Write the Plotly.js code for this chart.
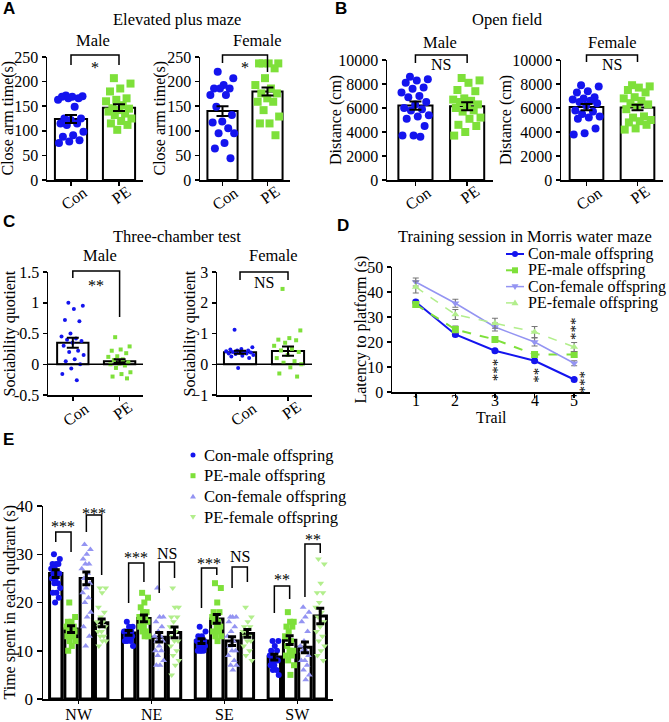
<!DOCTYPE html>
<html>
<head>
<meta charset="utf-8">
<script src="https://cdn.plot.ly/plotly-3.0.1.min.js"></script>
<style>
  html, body { margin: 0; padding: 0; background: #fff; }
  #fig { width: 669px; height: 722px; }
</style>
</head>
<body>
<div id="fig"></div>
<script>
// ---------------- data ----------------
const groups = ['Con', 'PE'];

// A: elevated plus maze, close arm time (s)
const epmMaleCon = [172, 170, 169, 169, 166, 166, 163, 149, 125, 125, 122, 115, 115, 112, 98, 91, 88, 81, 78, 75];
const epmMalePE = [207, 196, 186, 180, 166, 163, 160, 152, 146, 145, 142, 139, 135, 132, 125, 120, 115, 112, 102];
const epmFemaleCon = [220, 207, 193, 186, 186, 186, 173, 173, 149, 132, 119, 117, 105, 95, 95, 75, 64, 44];
const epmFemalePE = [237, 237, 237, 237, 227, 207, 193, 186, 176, 176, 166, 159, 159, 142, 129, 115, 115, 91];
const epmMaleMean = [124, 147];
const epmMaleSem = [8, 7];
const epmFemaleMean = [140, 180];
const epmFemaleSem = [10, 8];

// B: open field, distance (cm)
const ofMaleCon = [8600, 8400, 8300, 8100, 7700, 7600, 7300, 7000, 6900, 6500, 6300, 6000, 5900, 5800, 5400, 5300, 5100, 4500, 3700, 3700, 3600];
const ofMalePE = [8500, 8300, 8100, 7500, 7400, 6800, 6700, 6600, 6500, 6300, 6200, 6000, 5800, 5700, 5200, 5100, 4600, 4500, 4000, 3700];
const ofFemaleCon = [7900, 7800, 7400, 7300, 6900, 6800, 6700, 6600, 6500, 6400, 6200, 5800, 5700, 5500, 5300, 5200, 5100, 4300, 3900, 3800];
const ofFemalePE = [7900, 7800, 7700, 7500, 7300, 6900, 6800, 6600, 6400, 6300, 6100, 5900, 5300, 5200, 5000, 4900, 4800, 4600, 4300, 4200];
const ofMaleMean = [6200, 6150];
const ofMaleSem = [340, 330];
const ofFemaleMean = [6080, 6050];
const ofFemaleSem = [260, 230];
const ofTicks = [0, 2000, 4000, 6000, 8000, 10000];

// C: three-chamber test, sociability quotient
const sqMaleCon = [1.0, 0.95, 0.9, 0.72, 0.7, 0.5, 0.45, 0.42, 0.4, 0.38, 0.35, 0.3, 0.22, 0.2, 0.15, 0.08, 0.05, 0.0, -0.07, -0.16, -0.26];
const sqMalePE = [0.44, 0.29, 0.24, 0.22, 0.18, 0.13, 0.12, 0.08, 0.07, 0.03, 0.01, 0.0, -0.02, -0.06, -0.13, -0.16, -0.2, -0.23];
const sqFemaleCon = [1.12, 0.55, 0.5, 0.48, 0.45, 0.45, 0.42, 0.4, 0.4, 0.38, 0.37, 0.35, 0.35, 0.33, 0.3, 0.28, 0.25, 0.2, -0.12];
const sqFemalePE = [2.45, 1.1, 0.85, 0.8, 0.78, 0.7, 0.6, 0.5, 0.45, 0.4, 0.3, 0.2, 0.1, 0.05, 0.0, -0.1, -0.3, -0.4];
const sqMaleMean = [0.35, 0.05];
const sqMaleSem = [0.08, 0.03];
const sqFemaleMean = [0.39, 0.43];
const sqFemaleSem = [0.05, 0.15];

// D: Morris water maze training, latency (s)
const trails = [1, 2, 3, 4, 5];
const mwmConMale = [36, 23, 16.5, 12.5, 5];
const mwmPEMale = [35, 25, 21, 15, 15];
const mwmConFemale = [44, 35.5, 26, 20, 11.5];
const mwmPEFemale = [42, 31, 27.5, 24, 18];
const mwmConMaleSem = [0.8, 0.8, 0.6, 0.6, 0.5];
const mwmPEMaleSem = [1, 1.4, 0.9, 1, 1];
const mwmConFemaleSem = [1.6, 1.6, 1.6, 1.6, 1];
const mwmPEFemaleSem = [2.4, 2, 2, 2.2, 1.8];

// E: probe test, time in each quadrant (s)
const quadrants = ['NW', 'NE', 'SE', 'SW'];
const eConMale = [
  [30, 29, 28, 28, 28, 27, 27, 26, 26, 26, 25, 25, 24, 24, 23, 22, 22, 21, 20],
  [16, 15, 15, 14, 14, 14, 14, 13, 13, 13, 13, 12, 12, 12, 11],
  [15, 14, 13, 13, 12, 12, 12, 11, 11, 11, 10, 10, 10, 10],
  [12, 12, 11, 10, 10, 9, 9, 8, 8, 8, 7, 7, 6, 6, 5]
];
const ePEMale = [
  [20, 17, 16, 16, 15, 15, 15, 14, 14, 14, 13, 13, 13, 12, 12, 11, 10],
  [22, 21, 20, 19, 18, 18, 17, 17, 16, 16, 15, 15, 14, 14, 13, 13],
  [24, 23, 20, 18, 18, 17, 17, 16, 16, 15, 15, 14, 14, 13, 13, 12],
  [18, 16, 16, 15, 15, 14, 13, 12, 11, 10, 10, 9, 9, 8, 7, 5]
];
const eConFemale = [
  [32, 31, 30, 29, 28, 28, 27, 26, 25, 24, 23, 22, 21, 20, 18, 17, 15, 13, 11],
  [23, 17, 17, 16, 15, 14, 13, 13, 12, 12, 11, 10, 10, 9, 8, 7, 7],
  [17, 17, 17, 16, 15, 14, 13, 12, 11, 10, 10, 9, 8, 7, 7, 6],
  [19, 18, 17, 16, 14, 12, 11, 10, 10, 9, 8, 8, 7, 6, 5, 4]
];
const ePEFemale = [
  [23, 23, 22, 19, 18, 17, 16, 16, 15, 15, 14, 14, 13, 13, 12, 12, 11],
  [23, 19, 19, 17, 17, 16, 15, 14, 13, 12, 12, 11, 10, 9, 8, 7, 5],
  [19, 17, 16, 15, 15, 14, 14, 13, 13, 12, 12, 11, 10, 9, 8],
  [29, 28, 24, 22, 22, 20, 19, 18, 17, 16, 15, 14, 13, 12, 11, 10, 9, 8]
];
const eConMaleMean = [26, 13.7, 12, 8.7];
const ePEMaleMean = [14.5, 16.7, 16.6, 12.2];
const eConFemaleMean = [25, 12.8, 12, 10.7];
const ePEFemaleMean = [15.8, 13.8, 13.6, 17.2];
const eConMaleSem = [0.8, 0.5, 0.5, 0.6];
const ePEMaleSem = [0.7, 0.7, 0.9, 0.9];
const eConFemaleSem = [1.3, 1, 0.9, 1.1];
const ePEFemaleSem = [0.8, 1.1, 0.8, 1.6];

const seriesNames = ['Con-male offspring', 'PE-male offspring', 'Con-female offspring', 'PE-female offspring'];

// ---------------- styling ----------------
const W = 669, H = 722;
const px = v => v / W;
const py = v => 1 - v / H;
const SERIF = 'Liberation Serif, Times New Roman, serif';
const BLUE = '#1414ee';
const GREEN = '#7ee03a';
const LILAC = '#9494f2';
const PALE = '#b2ee8c';

// plot rectangles in pixels (ytl = x position of the rotated y title)
const rect = {
  1: { l: 47, r: 143, t: 57, b: 180, xr: [-0.5, 1.5], yr: [0, 250], ytl: 8, ytitle: 'Close arm time(s)' },
  2: { l: 200, r: 290, t: 57, b: 180, xr: [-0.5, 1.5], yr: [0, 250], ytl: 160, ytitle: 'Close arm time(s)' },
  3: { l: 387, r: 493, t: 60, b: 180, xr: [-0.55, 1.5], yr: [0, 10000], ytl: 336, ytitle: 'Distance (cm)' },
  4: { l: 561, r: 663, t: 60, b: 180, xr: [-0.5, 1.5], yr: [0, 10000], ytl: 506, ytitle: 'Distance (cm)' },
  5: { l: 48, r: 143, t: 272, b: 395, xr: [-0.53, 1.5], yr: [-0.5, 1.5], ytl: 9, ytitle: 'Sociability quotient' },
  6: { l: 217, r: 312, t: 272, b: 395, xr: [-0.48, 1.5], yr: [-1, 3], ytl: 189, ytitle: 'Sociability quotient' },
  7: { l: 392, r: 590, t: 267, b: 392, xr: [0.4, 5.4], yr: [0, 50], ytl: 361, ytitle: 'Latency to platform (s)' },
  8: { l: 43, r: 333, t: 506, b: 699, xr: [-0.49, 3.49], yr: [0, 40], ytl: 9, ytitle: 'Time spent in each qudrant (s)' }
};
const xfrac = (n, v) => (v - rect[n].xr[0]) / (rect[n].xr[1] - rect[n].xr[0]);
const yfrac = (n, v) => (v - rect[n].yr[0]) / (rect[n].yr[1] - rect[n].yr[0]);

// deterministic spread of dots inside a bar
const jitter = i => ((i * 0.618034 + 0.31) % 1) * 2 - 1;

const traces = [];

function barGroup(n, means, sems, sets, size, spread, barW, lineW, errW) {
  const xs = means.map((_, i) => i);
  traces.push({
    type: 'bar', xaxis: 'x' + n, yaxis: 'y' + n, x: xs, y: means, width: barW,
    marker: { color: 'white', line: { color: 'black', width: lineW } }, hoverinfo: 'skip'
  });
  sets.forEach((s, i) => {
    traces.push({
      type: 'scatter', mode: 'markers', xaxis: 'x' + n, yaxis: 'y' + n,
      x: s.vals.map((_, j) => i + jitter(j) * spread), y: s.vals,
      marker: { color: s.color, symbol: s.symbol, size: size }, cliponaxis: false, hoverinfo: 'skip'
    });
  });
  traces.push({
    type: 'scatter', mode: 'markers', xaxis: 'x' + n, yaxis: 'y' + n, x: xs, y: means,
    marker: { size: 1, color: 'rgba(0,0,0,0)' },
    error_y: { type: 'data', array: sems, color: 'black', thickness: errW, width: 6 }, hoverinfo: 'skip'
  });
}

barGroup(1, epmMaleMean, epmMaleSem, [{ vals: epmMaleCon, color: BLUE, symbol: 'circle' }, { vals: epmMalePE, color: GREEN, symbol: 'square' }], 8, 0.28, 0.67, 2, 2);
barGroup(2, epmFemaleMean, epmFemaleSem, [{ vals: epmFemaleCon, color: BLUE, symbol: 'circle' }, { vals: epmFemalePE, color: GREEN, symbol: 'square' }], 8, 0.28, 0.67, 2, 2);
barGroup(3, ofMaleMean, ofMaleSem, [{ vals: ofMaleCon, color: BLUE, symbol: 'circle' }, { vals: ofMalePE, color: GREEN, symbol: 'square' }], 8, 0.28, 0.66, 2, 2);
barGroup(4, ofFemaleMean, ofFemaleSem, [{ vals: ofFemaleCon, color: BLUE, symbol: 'circle' }, { vals: ofFemalePE, color: GREEN, symbol: 'square' }], 8, 0.28, 0.66, 2, 2);
barGroup(5, sqMaleMean, sqMaleSem, [{ vals: sqMaleCon, color: BLUE, symbol: 'circle' }, { vals: sqMalePE, color: GREEN, symbol: 'square' }], 4, 0.25, 0.67, 2, 2);
barGroup(6, sqFemaleMean, sqFemaleSem, [{ vals: sqFemaleCon, color: BLUE, symbol: 'circle' }, { vals: sqFemalePE, color: GREEN, symbol: 'square' }], 4, 0.3, 0.67, 2, 2);

// D lines
const dSeries = [
  { y: mwmConMale, e: mwmConMaleSem, color: BLUE, dash: 'solid', symbol: 'circle', w: 2 },
  { y: mwmPEMale, e: mwmPEMaleSem, color: GREEN, dash: 'dash', symbol: 'square', w: 2 },
  { y: mwmConFemale, e: mwmConFemaleSem, color: LILAC, dash: 'solid', symbol: 'triangle-down', w: 1.5 },
  { y: mwmPEFemale, e: mwmPEFemaleSem, color: PALE, dash: 'dash', symbol: 'triangle-up', w: 1.5 }
];
dSeries.forEach(s => {
  traces.push({
    type: 'scatter', mode: 'lines+markers', xaxis: 'x7', yaxis: 'y7', x: trails, y: s.y,
    line: { color: s.color, dash: s.dash, width: s.w }, marker: { color: s.color, symbol: s.symbol, size: 7 },
    error_y: { type: 'data', array: s.e, color: '#777777', thickness: 1.2, width: 3 }, hoverinfo: 'skip'
  });
});

// E grouped bars
const eSeries = [
  { pts: eConMale, mean: eConMaleMean, sem: eConMaleSem, color: BLUE, symbol: 'circle' },
  { pts: ePEMale, mean: ePEMaleMean, sem: ePEMaleSem, color: GREEN, symbol: 'square' },
  { pts: eConFemale, mean: eConFemaleMean, sem: eConFemaleSem, color: LILAC, symbol: 'triangle-up' },
  { pts: ePEFemale, mean: ePEFemaleMean, sem: ePEFemaleSem, color: PALE, symbol: 'triangle-down' }
];
const eStep = 0.21;
const ePos = (q, k) => q + (k - 1.5) * eStep;
eSeries.forEach((s, k) => {
  traces.push({
    type: 'bar', xaxis: 'x8', yaxis: 'y8', x: quadrants.map((_, q) => ePos(q, k)), y: s.mean, width: 0.17,
    marker: { color: 'white', line: { color: 'black', width: 3 } }, hoverinfo: 'skip'
  });
});
eSeries.forEach((s, k) => {
  const xs = [], ys = [];
  s.pts.forEach((vals, q) => vals.forEach((v, j) => { xs.push(ePos(q, k) + jitter(j) * 0.065); ys.push(v); }));
  traces.push({
    type: 'scatter', mode: 'markers', xaxis: 'x8', yaxis: 'y8', x: xs, y: ys,
    marker: { color: s.color, symbol: s.symbol, size: 6 }, cliponaxis: false, hoverinfo: 'skip'
  });
});
eSeries.forEach((s, k) => {
  traces.push({
    type: 'scatter', mode: 'markers', xaxis: 'x8', yaxis: 'y8', x: quadrants.map((_, q) => ePos(q, k)), y: s.mean,
    marker: { size: 1, color: 'rgba(0,0,0,0)' },
    error_y: { type: 'data', array: s.sem, color: 'black', thickness: 3, width: 4 }, hoverinfo: 'skip'
  });
});

// ---------------- axes ----------------
const layout = {
  width: W, height: H, margin: { l: 0, r: 0, t: 0, b: 0 },
  paper_bgcolor: 'white', plot_bgcolor: 'rgba(0,0,0,0)',
  showlegend: false, barmode: 'overlay',
  font: { family: SERIF, size: 16, color: 'black' },
  shapes: [], annotations: []
};
const base = {
  showline: true, linecolor: 'black', linewidth: 1.5, ticks: 'outside', ticklen: 4, tickwidth: 1.5,
  tickcolor: 'black', showgrid: false, zeroline: false, fixedrange: true,
  tickfont: { family: SERIF, size: 16, color: 'black' }
};
function setAxes(n, xExtra, yExtra) {
  const r = rect[n];
  layout['xaxis' + n] = Object.assign({}, base, { domain: [px(r.l), px(r.r)], range: r.xr, anchor: 'y' + n }, xExtra);
  layout['yaxis' + n] = Object.assign({}, base, { domain: [py(r.b), py(r.t)], range: r.yr, anchor: 'x' + n }, yExtra);
  // y title as a rotated text beside the axis
  layout.annotations.push({
    xref: 'paper', yref: 'paper', x: px(r.ytl), y: py((r.t + r.b) / 2), text: r.ytitle, textangle: -90,
    showarrow: false, xanchor: 'center', yanchor: 'middle', font: { family: SERIF, size: 16, color: 'black' }
  });
}
const catX = { tickvals: [0, 1], showticklabels: false };
setAxes(1, catX, { tickvals: [0, 50, 100, 150, 200, 250] });
setAxes(2, catX, { tickvals: [0, 50, 100, 150, 200, 250] });
setAxes(3, catX, { tickvals: ofTicks, ticktext: ofTicks.map(String) });
setAxes(4, catX, { tickvals: ofTicks, ticktext: ofTicks.map(String) });
setAxes(5, catX, { tickvals: [-0.5, 0, 0.5, 1, 1.5], ticktext: ['-0.5', '0', '0.5', '1', '1.5'] });
setAxes(6, catX, { tickvals: [-1, 0, 1, 2, 3] });
setAxes(7, { tickvals: trails, showticklabels: false }, { tickvals: [0, 10, 20, 30, 40, 50] });
setAxes(8, { tickvals: [0, 1, 2, 3], ticktext: quadrants, ticklen: 3, ticklabelstandoff: -3 },
  { tickvals: [0, 10, 20, 30, 40], ticklen: 5, tickfont: { family: SERIF, size: 17, color: 'black' } });

// rotated Con / PE labels under the small bar panels
[1, 2, 3, 4, 5, 6].forEach(n => {
  groups.forEach((g, i) => layout.annotations.push({
    xref: 'x' + n + ' domain', yref: 'paper', x: xfrac(n, i), xshift: 3,
    y: py(rect[n].b + (i === 0 ? 19 : 15)), text: g, textangle: -35, showarrow: false,
    xanchor: 'center', yanchor: 'middle', font: { family: SERIF, size: 16, color: 'black' }
  }));
});

// trail numbers and axis name for D, set close to the axis
trails.forEach(t => layout.annotations.push({
  xref: 'x7', yref: 'paper', x: t, y: py(400), text: String(t), showarrow: false,
  xanchor: 'center', yanchor: 'middle', font: { family: SERIF, size: 16, color: 'black' }
}));
layout.annotations.push({
  xref: 'x7 domain', yref: 'paper', x: 0.5, y: py(417), text: 'Trail', showarrow: false,
  xanchor: 'center', yanchor: 'middle', font: { family: SERIF, size: 16, color: 'black' }
});

// zero lines in C
[5, 6].forEach(n => layout.shapes.push({
  type: 'line', xref: 'x' + n + ' domain', yref: 'y' + n + ' domain', x0: 0, x1: 1,
  y0: yfrac(n, 0), y1: yfrac(n, 0), line: { color: 'black', width: 1.5 }
}));

// ---------------- significance brackets ----------------
const brackets = [
  { n: 1, x0: 0, x1: 1, top: 55, l: 65, r: 65, text: '*', ty: 68 },
  { n: 2, x0: 0, x1: 1, top: 55, l: 63, r: 72, text: '*', ty: 67 },
  { n: 3, x0: 0, x1: 1, top: 55, l: 63, r: 63, text: 'NS', ty: 64 },
  { n: 4, x0: 0, x1: 1, top: 55, l: 62, r: 62, text: 'NS', ty: 64 },
  { n: 5, x0: 0, x1: 1, top: 271, l: 278, r: 317, text: '**', ty: 285 },
  { n: 6, x0: 0, x1: 1, top: 272, l: 280, r: 280, text: 'NS', ty: 282 },
  { n: 8, x0: ePos(0, 0), x1: ePos(0, 1), top: 532, l: 542, r: 552, text: '***', ty: 526 },
  { n: 8, x0: ePos(0, 2), x1: ePos(0, 3), top: 515, l: 532, r: 575, text: '***', ty: 513 },
  { n: 8, x0: ePos(1, 0), x1: ePos(1, 1), top: 563, l: 603, r: 582, text: '***', ty: 557 },
  { n: 8, x0: ePos(1, 2), x1: ePos(1, 3), top: 562, l: 593, r: 578, text: 'NS', ty: 553 },
  { n: 8, x0: ePos(2, 0), x1: ePos(2, 1), top: 568, l: 608, r: 575, text: '***', ty: 563 },
  { n: 8, x0: ePos(2, 2), x1: ePos(2, 3), top: 567, l: 588, r: 582, text: 'NS', ty: 556 },
  { n: 8, x0: ePos(3, 0), x1: ePos(3, 1), top: 586, l: 613, r: 599, text: '**', ty: 579 },
  { n: 8, x0: ePos(3, 2), x1: ePos(3, 3), top: 544, l: 597, r: 553, text: '**', ty: 539 }
];
brackets.forEach(b => {
  const a = xfrac(b.n, b.x0), c = xfrac(b.n, b.x1);
  layout.shapes.push({
    type: 'path', xref: 'x' + b.n + ' domain', yref: 'paper',
    path: `M ${a},${py(b.l)} L ${a},${py(b.top)} L ${c},${py(b.top)} L ${c},${py(b.r)}`,
    line: { color: 'black', width: 1.5 }
  });
  layout.annotations.push({
    xref: 'x' + b.n + ' domain', yref: 'paper', x: (a + c) / 2, y: py(b.ty), text: b.text, showarrow: false,
    xanchor: 'center', yanchor: 'middle', font: { family: SERIF, size: 16, color: 'black' }
  });
});

// D stars (rotated)
const dStars = [
  { x: 2.97, y: 8.6, text: '***' },
  { x: 3.99, y: 6.8, text: '**' },
  { x: 4.93, y: 25.2, text: '***' },
  { x: 5.15, y: 4, text: '***' }
];
dStars.forEach(s => layout.annotations.push({
  xref: 'x7', yref: 'y7', x: s.x, y: s.y, text: s.text, showarrow: false, textangle: 90,
  font: { family: SERIF, size: 15, color: 'black' }
}));

// ---------------- texts ----------------
const texts = [
  { t: 'Elevated plus maze', x: 177, y: 20 },
  { t: 'Male', x: 93, y: 40 }, { t: 'Female', x: 257, y: 40 },
  { t: 'Open field', x: 507, y: 20 },
  { t: 'Male', x: 440, y: 42 }, { t: 'Female', x: 612, y: 42 },
  { t: 'Three-chamber test', x: 177, y: 237 },
  { t: 'Male', x: 100, y: 256 }, { t: 'Female', x: 273, y: 256 },
  { t: 'Training session in Morris water maze', x: 525, y: 237 }
];
texts.forEach(s => layout.annotations.push({
  xref: 'paper', yref: 'paper', x: px(s.x), y: py(s.y), text: s.t, showarrow: false,
  xanchor: 'center', yanchor: 'middle', font: { family: SERIF, size: 16.5, color: 'black' }
}));
[['A', 1, 9], ['B', 333, 9], ['C', 1, 222], ['D', 335, 225], ['E', 1, 440]].forEach(([t, x, y]) => layout.annotations.push({
  xref: 'paper', yref: 'paper', x: px(x), y: py(y), text: '<b>' + t + '</b>', showarrow: false,
  xanchor: 'left', yanchor: 'middle', font: { family: 'Liberation Sans, Arial, sans-serif', size: 17, color: 'black' }
}));

// ---------------- hand-placed legends ----------------
function keyMarker(symbol, cx, cy, r, color) {
  if (symbol === 'circle') {
    layout.shapes.push({ type: 'circle', xref: 'paper', yref: 'paper', x0: px(cx - r), x1: px(cx + r), y0: py(cy + r), y1: py(cy - r), fillcolor: color, line: { width: 0 } });
  } else if (symbol === 'square') {
    layout.shapes.push({ type: 'rect', xref: 'paper', yref: 'paper', x0: px(cx - r), x1: px(cx + r), y0: py(cy + r), y1: py(cy - r), fillcolor: color, line: { width: 0 } });
  } else {
    const up = symbol === 'triangle-up' ? 1 : -1;
    const path = `M ${px(cx - r - 0.5)},${py(cy + up * r * 0.8)} L ${px(cx + r + 0.5)},${py(cy + up * r * 0.8)} L ${px(cx)},${py(cy - up * r * 1.1)} Z`;
    layout.shapes.push({ type: 'path', xref: 'paper', yref: 'paper', path: path, fillcolor: color, line: { width: 0 } });
  }
}
dSeries.forEach((s, i) => {
  const y = 254 + i * 16.3;
  layout.shapes.push({ type: 'line', xref: 'paper', yref: 'paper', x0: px(506), x1: px(524), y0: py(y), y1: py(y), line: { color: s.color, width: s.w, dash: s.dash === 'dash' ? 'dash' : 'solid' } });
  keyMarker(s.symbol, 515, y, 3, s.color);
  layout.annotations.push({ xref: 'paper', yref: 'paper', x: px(526), y: py(y), text: seriesNames[i], showarrow: false, xanchor: 'left', yanchor: 'middle', font: { family: SERIF, size: 16, color: 'black' } });
});
eSeries.forEach((s, i) => {
  const y = 455 + i * 20.7;
  keyMarker(s.symbol, 193, y, 2.5, s.color);
  layout.annotations.push({ xref: 'paper', yref: 'paper', x: px(202), y: py(y), text: seriesNames[i], showarrow: false, xanchor: 'left', yanchor: 'middle', font: { family: SERIF, size: 16.5, color: 'black' } });
});

Plotly.newPlot('fig', traces, layout, { staticPlot: true });
</script>
</body>
</html>
